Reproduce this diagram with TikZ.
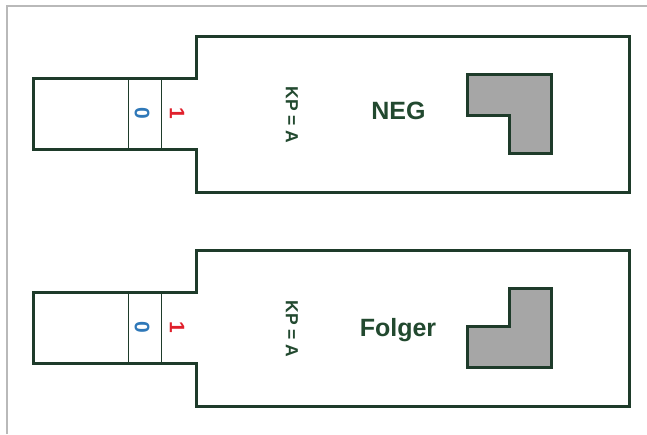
\documentclass[tikz,border=0pt]{standalone}
\usepackage{fontspec}
\setmainfont{Liberation Sans}
\usetikzlibrary{positioning}

\definecolor{rimgreen}{HTML}{1E3B2A}
\definecolor{textgreen}{HTML}{22492F}
\definecolor{bitblue}{HTML}{2F78B8}
\definecolor{bitred}{HTML}{E0202C}
\definecolor{partgray}{HTML}{A6A6A6}

\tikzset{
  rim/.style={draw=rimgreen, line width=3pt, line join=miter},
  slot/.style={draw=rimgreen, line width=0.9pt},
  part/.style={rim, fill=partgray},
  bit/.style={inner sep=0pt, rotate=-90, font=\fontsize{21}{21}\selectfont\bfseries},
  kplabel/.style={inner sep=0pt, rotate=-90, text=textgreen,
                  font=\fontsize{17.5}{18}\selectfont\bfseries},
  typelabel/.style={inner sep=0pt, anchor=base, text=textgreen,
               font=\fontsize{25}{26}\selectfont\bfseries}
}

\begin{document}
\begin{tikzpicture}[x=1pt, y=-1pt]
  \useasboundingbox (0,0) rectangle (647,434);

  % page frame
  \draw[gray!55, line width=1.3pt] (7,434) -- (7,6) -- (647,6);

  % two modules
  \foreach \m/\yo/\txt/\flip in {neg/0/NEG/1, folg/214/Folger/-1} {
    \begin{scope}[shift={(0,\yo)}]
      % housing with plug
      \draw[rim] (33,78) -- (196,78) -- (196,36) -- (629,36) -- (629,192)
        -- (196,192) -- (196,149) -- (33,149) -- cycle;
      \draw[slot] (128,78) -- (128,149);
      \draw[slot] (161,78) -- (161,149);

      \node[bit, text=bitblue] (zero-\m) at (142,113.5) {0};
      \node[bit, text=bitred] (one-\m) at (177,113.5) {1};
      \node[kplabel] (kp-\m) at (292,115) {KP = A};

      % workpiece
      \begin{scope}[shift={(509,113.5)}, yscale=\flip]
        \draw[part] (-42,-39.5) -- (42,-39.5) -- (42,39.5) -- (0,39.5)
          -- (0,1.5) -- (-42,1.5) -- cycle;
      \end{scope}
    \end{scope}
  }
  \node[typelabel] (type-neg) at (398.5,119.5) {NEG};
  \node[typelabel] (type-folg) at (398,336.5) {Folger};
\end{tikzpicture}
\end{document}
